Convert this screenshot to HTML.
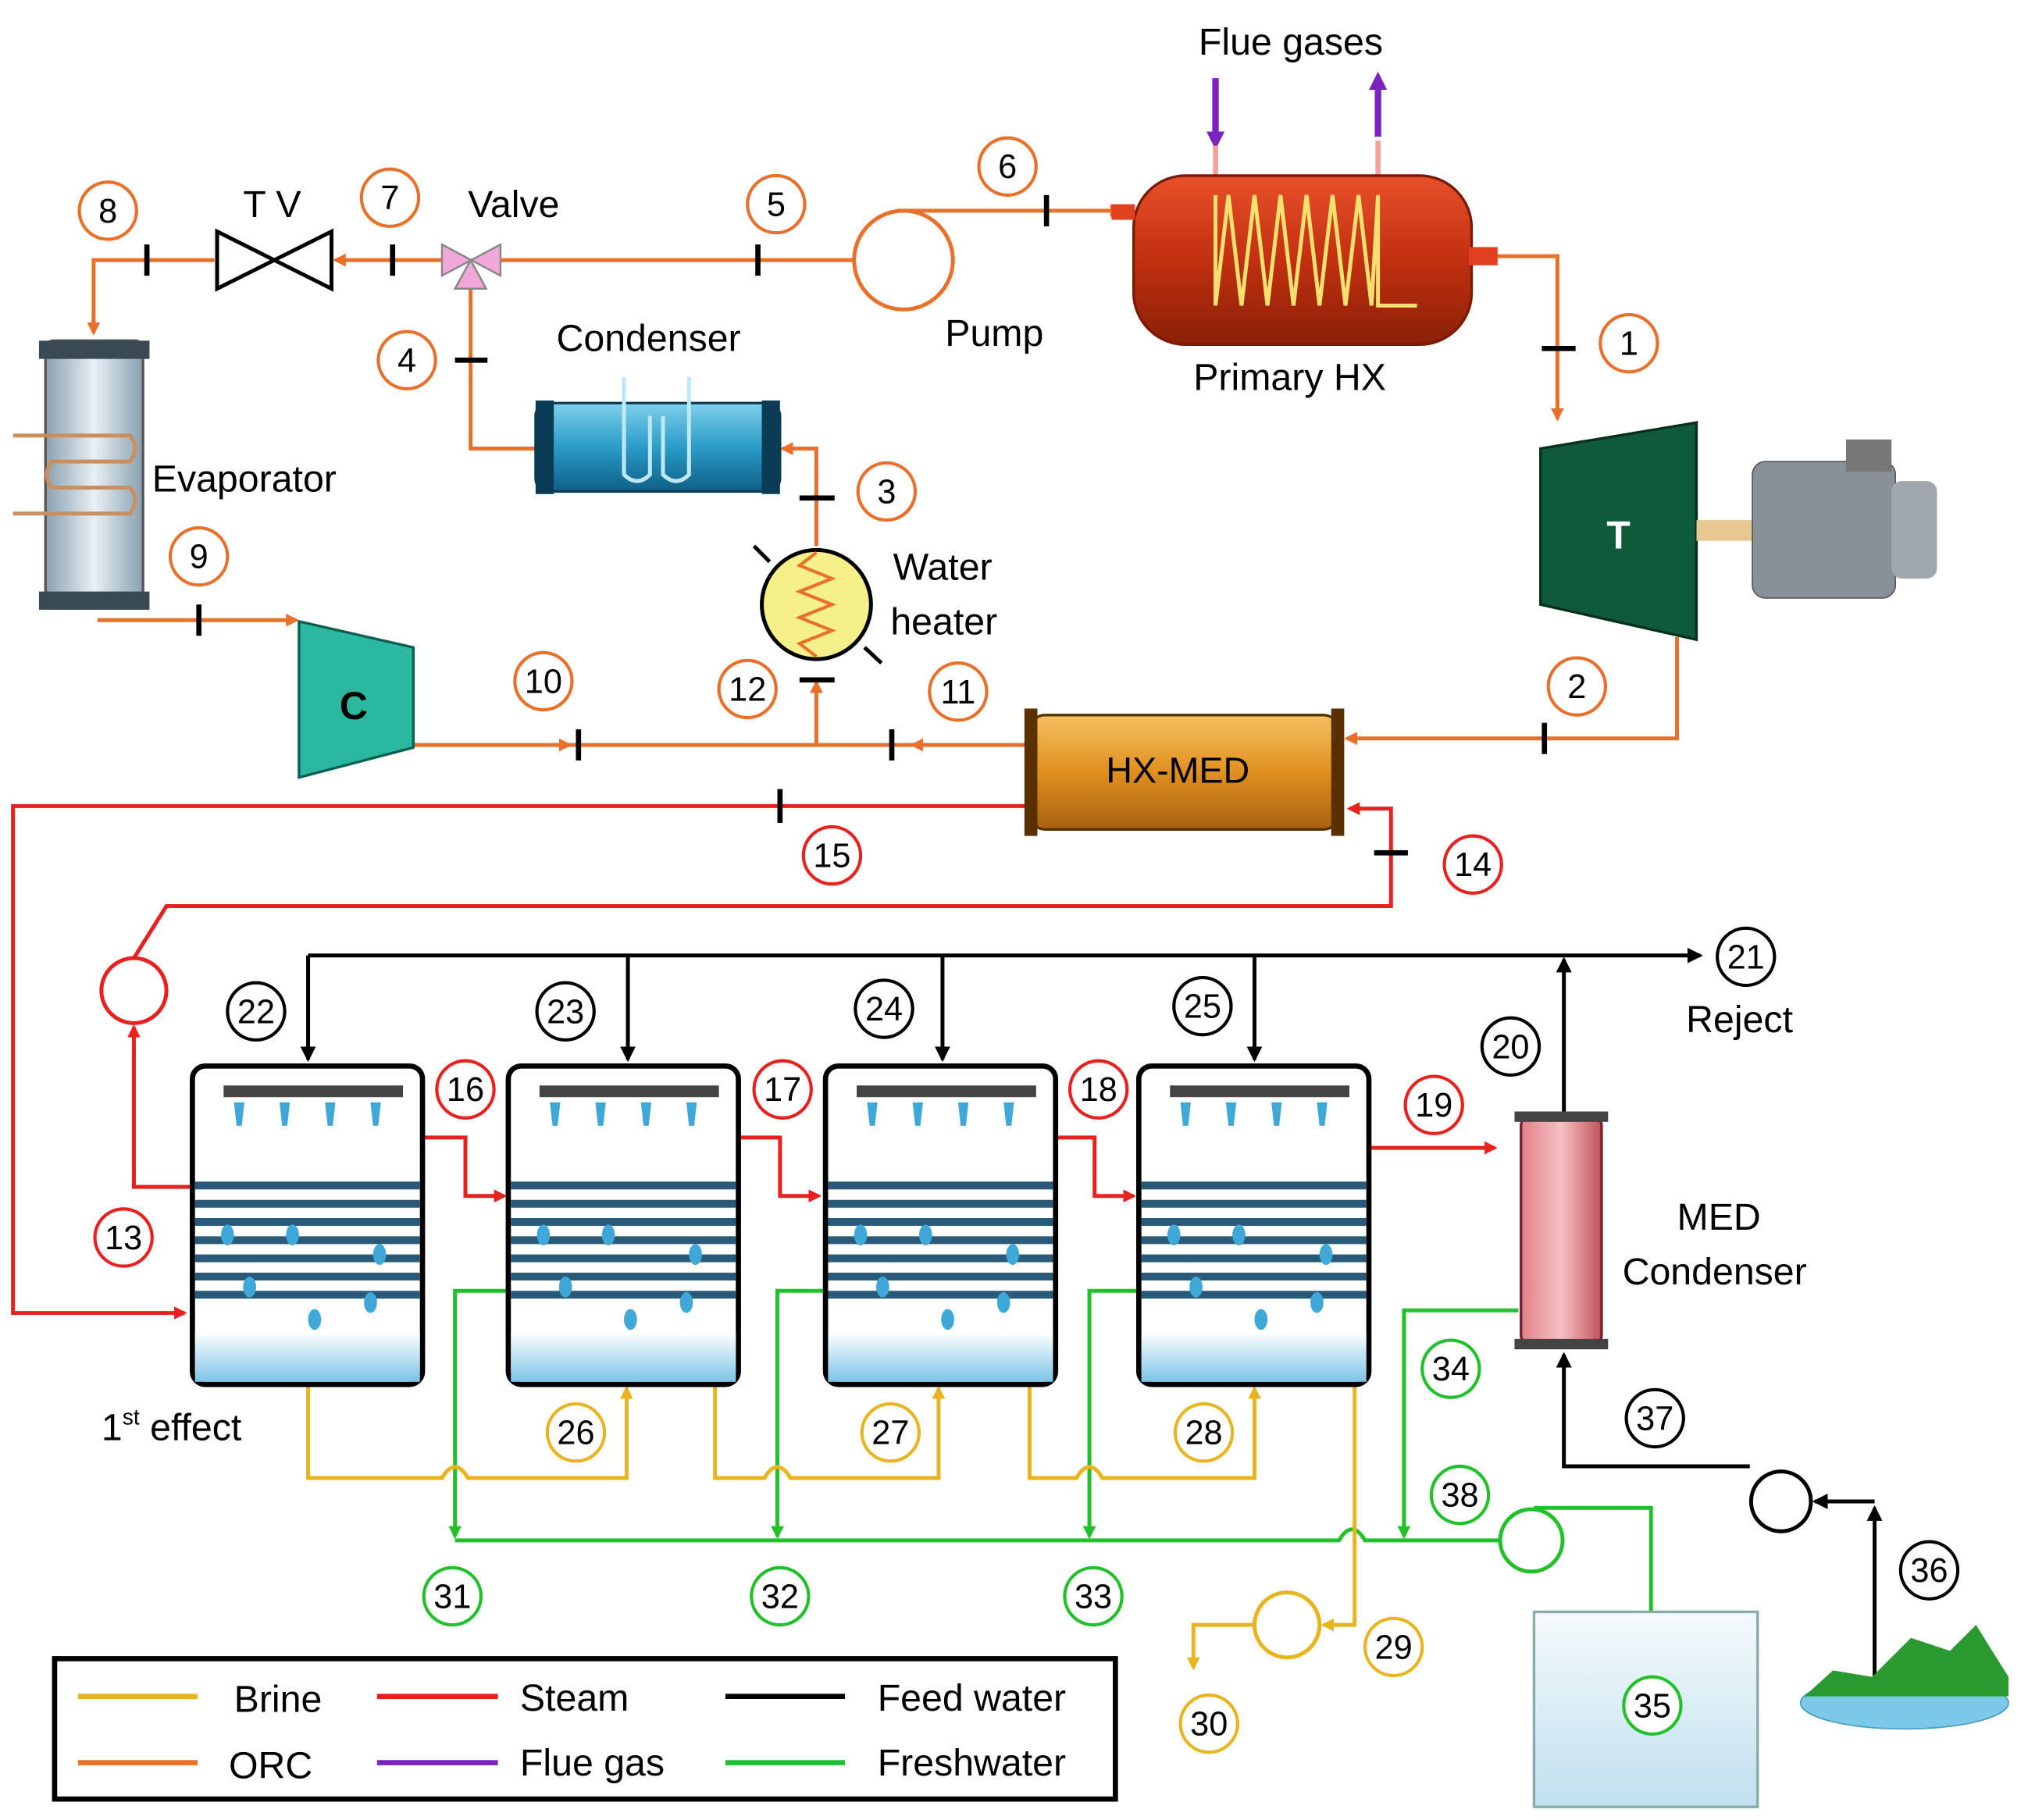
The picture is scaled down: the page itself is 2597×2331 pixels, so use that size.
<!DOCTYPE html>
<html><head><meta charset="utf-8"><style>
html,body{margin:0;padding:0;background:#fff}
svg{display:block}
text{font-family:"Liberation Sans","DejaVu Sans",sans-serif}
</style></head><body>
<svg width="2597" height="2331" viewBox="0 0 1560 1400" xmlns="http://www.w3.org/2000/svg">
<defs>
<marker id="ao" markerWidth="10" markerHeight="10" refX="8" refY="5" orient="auto" markerUnits="userSpaceOnUse"><path d="M0,0 L10,5 L0,10 z" fill="#e8702a"/></marker>
<marker id="ar" markerWidth="10" markerHeight="10" refX="8" refY="5" orient="auto" markerUnits="userSpaceOnUse"><path d="M0,0 L10,5 L0,10 z" fill="#e8211e"/></marker>
<marker id="ak" markerWidth="12" markerHeight="12" refX="10" refY="6" orient="auto" markerUnits="userSpaceOnUse"><path d="M0,0 L12,6 L0,12 z" fill="#000"/></marker>
<marker id="ag" markerWidth="10" markerHeight="10" refX="8" refY="5" orient="auto" markerUnits="userSpaceOnUse"><path d="M0,0 L10,5 L0,10 z" fill="#22c02a"/></marker>
<marker id="ay" markerWidth="10" markerHeight="10" refX="8" refY="5" orient="auto" markerUnits="userSpaceOnUse"><path d="M0,0 L10,5 L0,10 z" fill="#e8b520"/></marker>
<marker id="ap" markerWidth="14" markerHeight="14" refX="7" refY="7" orient="auto" markerUnits="userSpaceOnUse"><path d="M0,0 L14,7 L0,14 z" fill="#7b22c0"/></marker>
<linearGradient id="gHX" x1="0" y1="0" x2="0" y2="1"><stop offset="0" stop-color="#e8502a"/><stop offset=".5" stop-color="#c23010"/><stop offset="1" stop-color="#8a2008"/></linearGradient>
<linearGradient id="gCond" x1="0" y1="0" x2="0" y2="1"><stop offset="0" stop-color="#7fd0ea"/><stop offset=".5" stop-color="#2a9cc8"/><stop offset="1" stop-color="#0f5f85"/></linearGradient>
<linearGradient id="gMED" x1="0" y1="0" x2="0" y2="1"><stop offset="0" stop-color="#f5c060"/><stop offset=".5" stop-color="#e09020"/><stop offset="1" stop-color="#a86010"/></linearGradient>
<linearGradient id="gEv" x1="0" y1="0" x2="1" y2="0"><stop offset="0" stop-color="#8aa0b0"/><stop offset=".5" stop-color="#e8f0f5"/><stop offset="1" stop-color="#8aa0b0"/></linearGradient>
<linearGradient id="gMC" x1="0" y1="0" x2="1" y2="0"><stop offset="0" stop-color="#e08088"/><stop offset=".5" stop-color="#f8c0c4"/><stop offset="1" stop-color="#c05058"/></linearGradient>
<linearGradient id="gW" x1="0" y1="0" x2="0" y2="1"><stop offset="0" stop-color="#fff"/><stop offset="1" stop-color="#7cc4e8"/></linearGradient>
<linearGradient id="gT" x1="0" y1="0" x2="0" y2="1"><stop offset="0" stop-color="#f5fafc"/><stop offset="1" stop-color="#bfe0ee"/></linearGradient>
</defs>

<!-- ORC lines -->
<g fill="none" stroke="#e8702a" stroke-width="3">
<line x1="380" y1="200" x2="692" y2="200" marker-end="url(#ao)"/>
<path d="M690,162 L862,162" marker-end="url(#ao)"/>
<path d="M350,200 L258,200" marker-end="url(#ao)"/>
<path d="M165,200 L72,200 L72,256" marker-end="url(#ao)"/>
<path d="M415,345 L362,345 L362,214" marker-end="url(#ao)"/>
<path d="M1150,197 L1198,197 L1198,322" marker-end="url(#ao)"/>
<path d="M1290,490 L1290,568 L1036,568" marker-end="url(#ao)"/>
<path d="M790,573 L702,573" marker-end="url(#ao)"/>
<path d="M318,573 L438,573"  marker-end="url(#ao)"/>
<path d="M438,573 L702,573"/>
<path d="M628,573 L628,525" marker-end="url(#ao)"/>
<path d="M628,420 L628,345 L602,345" marker-end="url(#ao)"/>
<path d="M75,477 L228,477" marker-end="url(#ao)"/>
</g>
<!-- flue gas -->
<line x1="935" y1="60" x2="935" y2="108" stroke="#7b22c0" stroke-width="5" marker-end="url(#ap)"/>
<line x1="1060" y1="105" x2="1060" y2="62" stroke="#7b22c0" stroke-width="5" marker-end="url(#ap)"/>
<line x1="935" y1="112" x2="935" y2="135" stroke="#f2a0a0" stroke-width="4"/>
<line x1="1060" y1="108" x2="1060" y2="135" stroke="#f2a0a0" stroke-width="4"/>

<!-- steam red -->
<g fill="none" stroke="#e8211e" stroke-width="3">
<path d="M790,620 L10,620 L10,1010 L142,1010" marker-end="url(#ar)"/>
<path d="M148,913 L103,913 L103,790" marker-end="url(#ar)"/>
<path d="M103,737 L128,697 L1070,697 L1070,622 L1038,622" marker-end="url(#ar)"/>
<path d="M325,875 L358,875 L358,920 L388,920" marker-end="url(#ar)"/>
<path d="M568,875 L600,875 L600,920 L630,920" marker-end="url(#ar)"/>
<path d="M812,875 L842,875 L842,920 L872,920" marker-end="url(#ar)"/>
<path d="M1052,883 L1150,883" marker-end="url(#ar)"/>
</g>
<circle cx="103" cy="762" r="25" fill="#fff" stroke="#e8211e" stroke-width="3"/>

<!-- feed water black -->
<g fill="none" stroke="#000" stroke-width="3">
<path d="M237,735 L1308,735" marker-end="url(#ak)"/>
<path d="M237,735 L237,815" marker-end="url(#ak)"/>
<path d="M483,735 L483,815" marker-end="url(#ak)"/>
<path d="M725,735 L725,815" marker-end="url(#ak)"/>
<path d="M965,735 L965,815" marker-end="url(#ak)"/>
<path d="M1203,855 L1203,738" marker-end="url(#ak)"/>
<path d="M1346,1128 L1203,1128 L1203,1042" marker-end="url(#ak)"/>
<path d="M1442,1310 L1442,1160" marker-end="url(#ak)"/>
<path d="M1442,1155 L1396,1155" marker-end="url(#ak)"/>
</g>
<circle cx="1370" cy="1155" r="23" fill="#fff" stroke="#000" stroke-width="3"/>

<!-- freshwater green -->
<g fill="none" stroke="#22c02a" stroke-width="3">
<path d="M392,993 L350,993 L350,1182" marker-end="url(#ag)"/>
<path d="M635,993 L598,993 L598,1182" marker-end="url(#ag)"/>
<path d="M876,993 L838,993 L838,1182" marker-end="url(#ag)"/>
<path d="M1168,1008 L1080,1008 L1080,1182" marker-end="url(#ag)"/>
<path d="M350,1185 L1030,1185 Q1040,1168 1050,1185 L1155,1185"/>
<path d="M1180,1160 L1270,1160 L1270,1265" marker-end="url(#ag)"/>
</g>
<circle cx="1178" cy="1185" r="24" fill="#fff" stroke="#22c02a" stroke-width="3"/>

<!-- brine yellow -->
<g fill="none" stroke="#e8b520" stroke-width="3">
<path d="M237,1065 L237,1137 L340,1137 Q350,1120 360,1137 L482,1137 L482,1068" marker-end="url(#ay)"/>
<path d="M550,1065 L550,1137 L588,1137 Q598,1120 608,1137 L722,1137 L722,1068" marker-end="url(#ay)"/>
<path d="M792,1065 L792,1137 L828,1137 Q838,1120 848,1137 L965,1137 L965,1068" marker-end="url(#ay)"/>
<path d="M1042,1065 L1042,1250 L1018,1250" marker-end="url(#ay)"/>
<path d="M965,1250 L918,1250 L918,1283" marker-end="url(#ay)"/>
</g>
<circle cx="990" cy="1250" r="25" fill="#fff" stroke="#e8b520" stroke-width="3"/>

<!-- Evaporator -->
<rect x="35" y="262" width="75" height="206" rx="6" fill="url(#gEv)" stroke="#555" stroke-width="2"/>
<rect x="30" y="262" width="85" height="14" fill="#3a4a55"/>
<rect x="30" y="455" width="85" height="14" fill="#3a4a55"/>
<path d="M10,335 L100,335 Q108,345 100,355 L40,355 Q32,365 40,375 L100,375 Q108,385 100,395 L10,395" fill="none" stroke="#c89060" stroke-width="3"/>
<!-- TV -->
<path d="M167,178 L255,222 L255,178 L167,222 Z" fill="#fff" stroke="#000" stroke-width="3"/>
<!-- Valve -->
<path d="M340,188 L385,212 L385,188 L340,212 Z" fill="#f0a8d8" stroke="#888" stroke-width="1.5"/>
<path d="M350,222 L374,222 L362,200 Z" fill="#f0a8d8" stroke="#888" stroke-width="1.5"/>
<!-- Pump -->
<circle cx="695" cy="200" r="38" fill="#fff" stroke="#e8702a" stroke-width="3"/>
<!-- Primary HX -->
<rect x="872" y="135" width="260" height="130" rx="40" fill="url(#gHX)" stroke="#7a1a05" stroke-width="2"/>
<rect x="855" y="157" width="18" height="12" fill="#e04020"/>
<rect x="1130" y="190" width="22" height="14" fill="#e04020"/>
<path d="M935,150 L935,235 L945,150 L955,235 L965,150 L975,235 L985,150 L995,235 L1005,150 L1015,235 L1025,150 L1035,235 L1045,150 L1055,235 L1060,150 L1060,235 L1090,235" fill="none" stroke="#f5e070" stroke-width="3"/>
<!-- Turbine -->
<path d="M1185,345 L1305,325 L1305,492 L1185,465 Z" fill="#0e5a3a" stroke="#06301c" stroke-width="2"/>
<text x="1245" y="422" font-size="30" font-weight="bold" fill="#fff" text-anchor="middle">T</text>
<rect x="1305" y="400" width="45" height="16" fill="#e8c890"/>
<rect x="1348" y="355" width="110" height="105" rx="10" fill="#8a9098" stroke="#555"/>
<rect x="1420" y="338" width="35" height="25" fill="#777"/>
<rect x="1455" y="370" width="35" height="75" rx="8" fill="#a0a6ae"/>
<!-- Condenser -->
<rect x="412" y="310" width="188" height="68" rx="10" fill="url(#gCond)" stroke="#0a3d55" stroke-width="2"/>
<rect x="412" y="308" width="14" height="72" fill="#0a3d55"/>
<rect x="586" y="308" width="14" height="72" fill="#0a3d55"/>
<path d="M480,290 L480,365 Q490,375 500,365 L500,320 M510,320 L510,365 Q520,375 530,365 L530,290" fill="none" stroke="#bfe8f5" stroke-width="3"/>
<!-- Water heater -->
<circle cx="628" cy="465" r="42" fill="#f5f08a" stroke="#000" stroke-width="3"/>
<line x1="580" y1="420" x2="592" y2="432" stroke="#000" stroke-width="3"/>
<line x1="665" y1="498" x2="678" y2="510" stroke="#000" stroke-width="3"/>
<path d="M628,425 L615,435 L640,445 L615,455 L640,465 L615,475 L640,485 L615,495 L628,505" fill="none" stroke="#e8702a" stroke-width="2.5"/>
<!-- Compressor -->
<path d="M230,478 L318,498 L318,575 L230,598 Z" fill="#2ab8a0" stroke="#0a6050" stroke-width="2"/>
<text x="272" y="553" font-size="30" font-weight="bold" fill="#000" text-anchor="middle">C</text>
<!-- HX-MED -->
<rect x="792" y="550" width="238" height="88" rx="12" fill="url(#gMED)" stroke="#5a3000" stroke-width="2"/>
<rect x="788" y="545" width="10" height="98" fill="#5a3000"/>
<rect x="1024" y="545" width="10" height="98" fill="#5a3000"/>
<text x="906" y="602" font-size="28" text-anchor="middle">HX-MED</text>

<!-- Effects -->
<g id="eff">
<rect x="148" y="820" width="177" height="245" rx="10" fill="#fff" stroke="#000" stroke-width="4"/>
<rect x="150" y="1025" width="173" height="38" fill="url(#gW)"/>
<rect x="172" y="835" width="138" height="9" fill="#444"/>
<g fill="#40a8d8"><path d="M180,848 l8,0 l-2,18 l-4,0z"/><path d="M215,848 l8,0 l-2,18 l-4,0z"/><path d="M250,848 l8,0 l-2,18 l-4,0z"/><path d="M285,848 l8,0 l-2,18 l-4,0z"/></g>
<g stroke="#2a5a7a" stroke-width="6"><line x1="150" y1="912" x2="323" y2="912"/><line x1="150" y1="926" x2="323" y2="926"/><line x1="150" y1="940" x2="323" y2="940"/><line x1="150" y1="954" x2="323" y2="954"/><line x1="150" y1="968" x2="323" y2="968"/><line x1="150" y1="982" x2="323" y2="982"/><line x1="150" y1="996" x2="323" y2="996"/></g>
<g fill="#40a8d8"><ellipse cx="175" cy="950" rx="5" ry="8"/><ellipse cx="225" cy="950" rx="5" ry="8"/><ellipse cx="292" cy="965" rx="5" ry="8"/><ellipse cx="192" cy="990" rx="5" ry="8"/><ellipse cx="285" cy="1002" rx="5" ry="8"/><ellipse cx="242" cy="1015" rx="5" ry="8"/></g>
</g>
<use href="#eff" x="243"/>
<use href="#eff" x="487"/>
<use href="#eff" x="728"/>

<!-- MED condenser -->
<rect x="1170" y="858" width="62" height="177" rx="8" fill="url(#gMC)" stroke="#702030" stroke-width="2"/>
<rect x="1165" y="855" width="72" height="8" fill="#444"/>
<rect x="1165" y="1030" width="72" height="8" fill="#444"/>

<!-- Tank -->
<rect x="1180" y="1240" width="172" height="150" fill="url(#gT)" stroke="#8aa" stroke-width="2"/>
<!-- Lake -->
<ellipse cx="1465" cy="1310" rx="80" ry="20" fill="#7cc8e8" stroke="#4a9ac0"/>
<path d="M1388,1305 L1410,1285 L1440,1290 L1470,1260 L1500,1270 L1520,1250 L1545,1290 L1545,1305 Z" fill="#2a9a30"/>

<!-- Legend -->
<rect x="42" y="1276" width="816" height="108" fill="#fff" stroke="#000" stroke-width="4"/>
<g stroke-width="4">
<line x1="60" y1="1305" x2="152" y2="1305" stroke="#e8b520"/>
<line x1="60" y1="1356" x2="152" y2="1356" stroke="#e8702a"/>
<line x1="290" y1="1305" x2="383" y2="1305" stroke="#e8211e"/>
<line x1="290" y1="1356" x2="383" y2="1356" stroke="#7b22c0"/>
<line x1="558" y1="1305" x2="650" y2="1305" stroke="#000"/>
<line x1="558" y1="1356" x2="650" y2="1356" stroke="#22c02a"/>
</g>
<g font-size="29">
<text x="180" y="1317">Brine</text><text x="176" y="1368">ORC</text>
<text x="400" y="1316">Steam</text><text x="400" y="1366">Flue gas</text>
<text x="675" y="1316">Feed water</text><text x="675" y="1366">Freshwater</text>
</g>

<!-- tick marks -->
<g stroke="#000" stroke-width="4">
<line x1="113" y1="188" x2="113" y2="212"/><line x1="302" y1="188" x2="302" y2="212"/>
<line x1="583" y1="188" x2="583" y2="212"/><line x1="805" y1="150" x2="805" y2="174"/>
<line x1="1186" y1="268" x2="1212" y2="268"/><line x1="350" y1="277" x2="375" y2="277"/>
<line x1="615" y1="383" x2="642" y2="383"/><line x1="153" y1="465" x2="153" y2="489"/>
<line x1="445" y1="561" x2="445" y2="585"/><line x1="686" y1="561" x2="686" y2="585"/>
<line x1="615" y1="523" x2="642" y2="523"/><line x1="1188" y1="556" x2="1188" y2="580"/>
<line x1="600" y1="607" x2="600" y2="633"/><line x1="1057" y1="656" x2="1083" y2="656"/>
</g>

<!-- Number circles -->
<g fill="#fff" stroke-width="2.5" font-size="27">
<g stroke="#e8702a">
<circle cx="83" cy="162" r="22"/><circle cx="300" cy="152" r="22"/><circle cx="597" cy="157" r="22"/><circle cx="775" cy="128" r="22"/>
<circle cx="1253" cy="264" r="22"/><circle cx="313" cy="277" r="22"/><circle cx="682" cy="378" r="22"/><circle cx="153" cy="428" r="22"/>
<circle cx="418" cy="524" r="22"/><circle cx="575" cy="530" r="22"/><circle cx="737" cy="532" r="22"/><circle cx="1213" cy="528" r="22"/>
</g>
<g stroke="#e8211e">
<circle cx="640" cy="658" r="22"/><circle cx="1133" cy="665" r="22"/><circle cx="95" cy="952" r="22"/>
<circle cx="358" cy="838" r="22"/><circle cx="602" cy="838" r="22"/><circle cx="845" cy="838" r="22"/><circle cx="1103" cy="850" r="22"/>
</g>
<g stroke="#000">
<circle cx="197" cy="778" r="22"/><circle cx="435" cy="778" r="22"/><circle cx="680" cy="776" r="22"/><circle cx="925" cy="774" r="22"/>
<circle cx="1343" cy="736" r="22"/><circle cx="1162" cy="805" r="22"/><circle cx="1273" cy="1091" r="22"/><circle cx="1484" cy="1208" r="22"/>
</g>
<g stroke="#e8b520">
<circle cx="443" cy="1102" r="22"/><circle cx="685" cy="1102" r="22"/><circle cx="926" cy="1102" r="22"/><circle cx="1072" cy="1267" r="22"/><circle cx="930" cy="1326" r="22"/>
</g>
<g stroke="#22c02a">
<circle cx="348" cy="1228" r="22"/><circle cx="600" cy="1228" r="22"/><circle cx="841" cy="1228" r="22"/><circle cx="1116" cy="1053" r="22"/><circle cx="1123" cy="1150" r="22"/><circle cx="1271" cy="1312" r="22"/>
</g>
</g>
<g font-size="26" text-anchor="middle">
<text x="83" y="171">8</text><text x="300" y="161">7</text><text x="597" y="166">5</text><text x="775" y="137">6</text>
<text x="1253" y="273">1</text><text x="313" y="286">4</text><text x="682" y="387">3</text><text x="153" y="437">9</text>
<text x="418" y="533">10</text><text x="575" y="539">12</text><text x="737" y="541">11</text><text x="1213" y="537">2</text>
<text x="640" y="667">15</text><text x="1133" y="674">14</text><text x="95" y="961">13</text>
<text x="358" y="847">16</text><text x="602" y="847">17</text><text x="845" y="847">18</text><text x="1103" y="859">19</text>
<text x="197" y="787">22</text><text x="435" y="787">23</text><text x="680" y="785">24</text><text x="925" y="783">25</text>
<text x="1343" y="745">21</text><text x="1162" y="814">20</text><text x="1273" y="1100">37</text><text x="1484" y="1217">36</text>
<text x="443" y="1111">26</text><text x="685" y="1111">27</text><text x="926" y="1111">28</text><text x="1072" y="1276">29</text><text x="930" y="1335">30</text>
<text x="348" y="1237">31</text><text x="600" y="1237">32</text><text x="841" y="1237">33</text><text x="1116" y="1062">34</text><text x="1123" y="1159">38</text><text x="1271" y="1321">35</text>
</g>

<!-- labels -->
<g font-size="29">
<text x="922" y="42">Flue gases</text>
<text x="187" y="167">T V</text>
<text x="360" y="167">Valve</text>
<text x="428" y="270">Condenser</text>
<text x="727" y="266">Pump</text>
<text x="918" y="300">Primary HX</text>
<text x="117" y="378">Evaporator</text>
<text x="687" y="446">Water</text>
<text x="685" y="488">heater</text>
<text x="1297" y="794">Reject</text>
<text x="1290" y="946">MED</text>
<text x="1248" y="988">Condenser</text>
<text x="78" y="1108">1<tspan font-size="17" dy="-12">st</tspan><tspan dy="12"> effect</tspan></text>
</g>
</svg>
</body></html>
